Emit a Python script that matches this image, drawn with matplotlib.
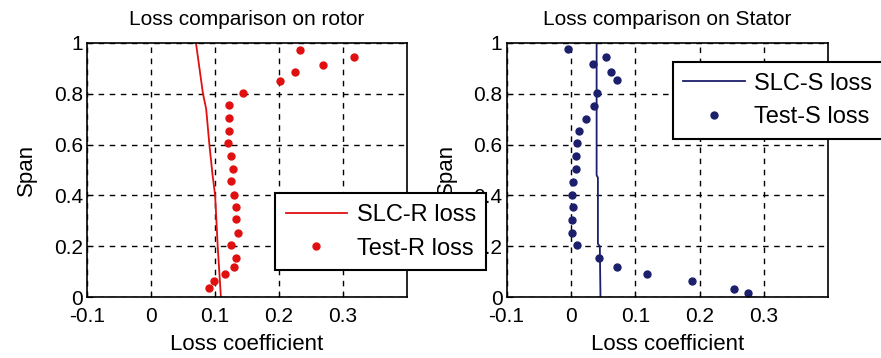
import matplotlib
matplotlib.use("Agg")
import matplotlib.pyplot as plt

# data
rotor_test_span = [0.035, 0.065, 0.092, 0.119, 0.154, 0.204, 0.251, 0.306, 0.353, 0.403, 0.455,
                   0.503, 0.554, 0.607, 0.654, 0.703, 0.755, 0.804, 0.851, 0.887, 0.914, 0.943, 0.972]
rotor_test_loss = [0.091, 0.098, 0.116, 0.130, 0.132, 0.125, 0.135, 0.132, 0.132, 0.129, 0.125,
                   0.128, 0.125, 0.120, 0.122, 0.122, 0.122, 0.143, 0.202, 0.225, 0.269, 0.317, 0.232]
rotor_slc_span = [0.0, 0.08, 0.2, 0.4, 0.48, 0.6, 0.74, 0.8, 1.0]
rotor_slc_loss = [0.109, 0.107, 0.104, 0.100, 0.096, 0.091, 0.086, 0.081, 0.070]

stator_test_span = [0.017, 0.032, 0.062, 0.092, 0.119, 0.154, 0.204, 0.254, 0.303, 0.353, 0.403, 0.454,
                    0.504, 0.555, 0.605, 0.654, 0.701, 0.751, 0.805, 0.853, 0.886, 0.916, 0.945, 0.977]
stator_test_loss = [0.275, 0.254, 0.189, 0.118, 0.072, 0.044, 0.010, 0.001, 0.001, 0.004, 0.001, 0.004,
                    0.008, 0.008, 0.010, 0.013, 0.023, 0.036, 0.041, 0.071, 0.062, 0.034, 0.054, -0.005]
stator_slc_span = [0.0, 0.2, 0.21, 0.47, 0.48, 1.0]
stator_slc_loss = [0.046, 0.045, 0.042, 0.042, 0.040, 0.040]

x_ticks = [-0.1, 0, 0.1, 0.2, 0.3]
x_ticklabels = ['-0.1', '0', '0.1', '0.2', '0.3']
y_ticks = [0, 0.2, 0.4, 0.6, 0.8, 1]
y_ticklabels = ['0', '0.2', '0.4', '0.6', '0.8', '1']

plt.rcParams['font.family'] = ['Liberation Sans', 'DejaVu Sans']

red = '#e01010'
navy = '#1c1f6b'

fig = plt.figure(figsize=(8.81, 3.58), dpi=100)
ax1 = fig.add_axes([0.099, 0.17, 0.363, 0.71])
ax2 = fig.add_axes([0.575, 0.17, 0.365, 0.71])
ax1.set_zorder(2)  # rotor legend sits over the stator tick labels


def style(ax, title):
    ax.set_xlim(-0.1, 0.4)
    ax.set_ylim(0, 1)
    ax.set_xticks(x_ticks)
    ax.set_xticklabels(x_ticklabels)
    ax.set_yticks(y_ticks)
    ax.set_yticklabels(y_ticklabels)
    ax.tick_params(direction='in', length=4, labelsize=15)
    ax.tick_params(axis='x', pad=7)
    ax.tick_params(axis='y', pad=3)
    ax.grid(True, color='black', linestyle=(0, (4, 4)), linewidth=1)
    ax.set_axisbelow(True)
    for s in ax.spines.values():
        s.set_linewidth(1.2)
    ax.set_title(title, fontsize=15, pad=13)
    ax.set_xlabel('Loss coefficient', fontsize=16, labelpad=6)
    ax.set_ylabel('Span', fontsize=16, labelpad=12)


def legend(ax, anchor):
    leg = ax.legend(loc='upper left', bbox_to_anchor=anchor, borderaxespad=0, fontsize=17,
                    numpoints=1, handlelength=2.6, fancybox=False, framealpha=1,
                    edgecolor='black', borderpad=0.45, labelspacing=0.5, handletextpad=0.4)
    leg.get_frame().set_linewidth(1.5)
    leg.set_zorder(5)


ax1.plot(rotor_slc_loss, rotor_slc_span, color=red, lw=1.3, label='SLC-R loss')
ax1.plot(rotor_test_loss, rotor_test_span, '.', color=red, ms=10, label='Test-R loss')
style(ax1, 'Loss comparison on rotor')
legend(ax1, (0.5875, 0.409))

ax2.plot(stator_slc_loss, stator_slc_span, color=navy, lw=1.3, label='SLC-S loss')
ax2.plot(stator_test_loss, stator_test_span, '.', color=navy, ms=10, label='Test-S loss')
style(ax2, 'Loss comparison on Stator')
legend(ax2, (0.517, 0.925))

fig.savefig('out.png', dpi=100)
